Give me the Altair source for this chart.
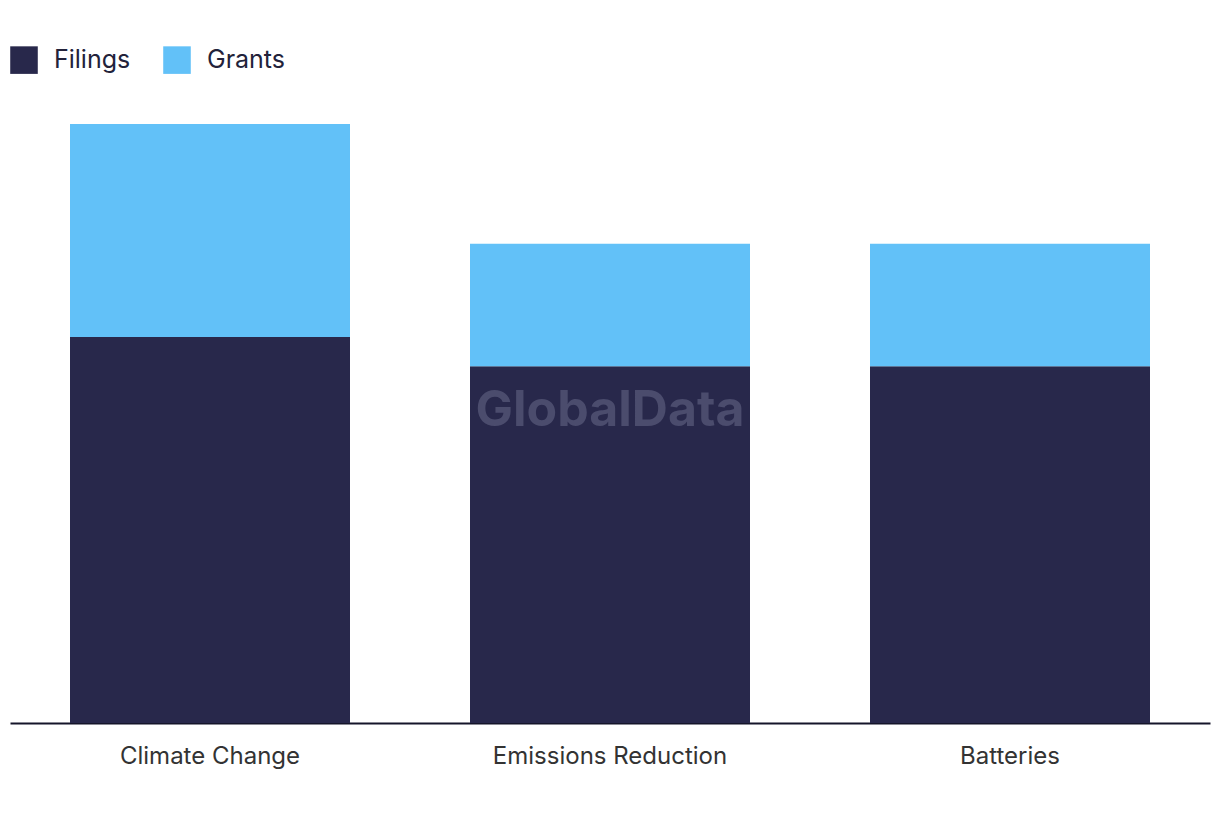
import altair as alt
import pandas as pd

categories = ["Climate Change", "Emissions Reduction", "Batteries"]
filings = [29, 26.8, 26.8]
grants = [16, 9.2, 9.2]
series = ["Filings", "Grants"]
colors = ["#28284b", "#62c1f8"]

rows = []
for c, f, g in zip(categories, filings, grants):
    rows.append({"category": c, "type": "Filings", "value": f, "ord": 0})
    rows.append({"category": c, "type": "Grants", "value": g, "ord": 1})
df = pd.DataFrame(rows)

FONT = "Inter"

bars = alt.Chart(df).mark_bar().encode(
    x=alt.X("category:N", sort=categories, title=None,
            scale=alt.Scale(paddingInner=0.3, paddingOuter=0.15),
            axis=alt.Axis(labelAngle=0, labelFontSize=24, labelColor="#333333",
                          labelFont=FONT, labelPadding=21, labelLimit=500, ticks=False,
                          domainColor="#15152a", domainWidth=2, domainOpacity=1)),
    y=alt.Y("value:Q", stack="zero", title=None,
            scale=alt.Scale(domain=[0, 45], nice=False),
            axis=None),
    color=alt.Color("type:N", sort=series,
                    scale=alt.Scale(domain=series, range=colors),
                    legend=alt.Legend(title=None, orient="none", legendX=0, legendY=-78,
                                      direction="horizontal", symbolType="square",
                                      symbolSize=760, symbolStrokeWidth=0,
                                      labelFontSize=25, labelFont=FONT,
                                      labelColor="#22223a", labelOffset=16,
                                      columnPadding=32, symbolOpacity=1)),
    order=alt.Order("ord:Q"),
)

wm = alt.Chart(pd.DataFrame({"t": ["GlobalData"]})).mark_text(
    font=FONT, fontSize=50, fontWeight="bold", color="#4b4c6d"
).encode(text="t:N", x=alt.value(600), y=alt.value(287))

chart = alt.layer(bars, wm).properties(
    width=1200, height=599,
    autosize=alt.AutoSizeParams(type="none"),
    padding={"left": 2, "top": 116, "right": 2, "bottom": 90},
).configure(background="white").configure_view(strokeWidth=0, stroke=None)

chart.save("out.html", embed_options={"renderer": "svg", "actions": False})
